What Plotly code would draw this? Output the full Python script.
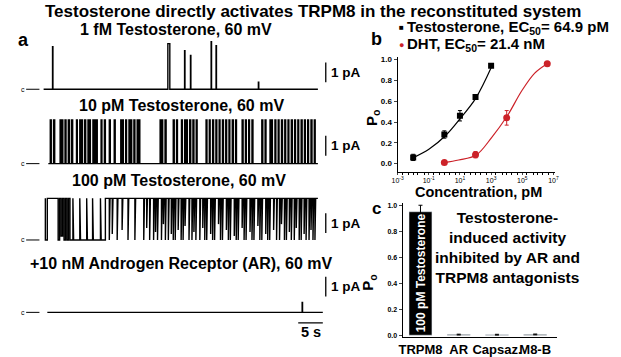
import plotly.graph_objects as go

W, H = 621, 357
FONT = "Liberation Sans, Arial, sans-serif"

# ---------------- DATA ----------------
# Panel a: single-channel traces (time in s, current in pA)
t_start_1fM, t_end_1fM = 0.0, 55.8
openings_1fM = [  # (start s, end s, amplitude pA)
    (1.86, 1.94, 2.15), (25.3, 25.7, 2.3), (28.7, 28.78, 1.95), (29.9, 29.98, 1.7),
    (34.1, 34.18, 2.4), (35.1, 35.18, 2.2), (43.7, 43.78, 0.35),
]

t_start_10pM, t_end_10pM = 1.0, 55.8
amp_10pM = 2.2
openings_10pM = [
    (1.4, 1.6), (2.07, 2.3), (3.4, 3.55), (3.73, 3.95), (4.4, 4.6), (5.07, 5.3), (5.73, 5.95),
    (6.73, 6.9), (7.4, 7.55), (7.73, 7.95), (8.4, 8.6), (9.07, 9.25), (9.4, 9.55), (10.07, 10.25),
    (10.4, 10.55), (10.73, 10.95), (11.73, 11.9), (12.4, 12.6), (13.4, 13.6), (14.4, 14.6),
    (15.73, 15.9), (16.07, 16.25), (16.73, 16.9), (17.4, 17.55), (17.73, 17.95), (18.4, 18.6),
    (19.07, 19.25), (19.4, 19.6), (23.73, 23.9), (24.07, 24.25), (24.73, 24.95), (26.4, 26.6),
    (27.07, 27.25), (28.07, 28.25), (28.73, 28.9), (29.07, 29.25), (29.73, 29.95), (30.4, 30.6),
    (31.07, 31.25), (33.07, 33.25), (33.73, 33.9), (34.4, 34.6), (35.07, 35.25), (35.73, 35.9),
    (36.4, 36.6), (37.07, 37.25), (37.73, 37.9), (38.4, 38.6), (39.07, 39.25), (40.4, 40.6),
    (41.07, 41.25), (41.73, 41.9), (42.4, 42.6), (44.4, 44.6), (45.07, 45.25), (46.07, 46.25),
    (46.4, 46.55), (47.07, 47.25), (47.73, 47.9), (48.4, 48.6), (49.07, 49.25), (49.73, 49.9),
    (50.4, 50.6), (51.07, 51.25), (51.73, 51.9), (52.4, 52.6), (53.07, 53.25), (53.73, 53.9),
    (54.4, 54.6), (55.07, 55.25),
]

t_start_100pM, t_end_100pM = 0.4, 55.8
amp_100pM = 2.1
closures_100pM = [  # (start s, end s, level pA) -- channel mostly open
    (0.4, 0.8, 0.0), (3.0, 3.3, 0.0), (3.6, 3.9, 0.2), (4.2, 4.5, 0.0), (4.8, 5.1, 0.0),
    (5.4, 6.0, 0.0), (6.15, 7.4, 0.0), (7.55, 8.8, 0.0), (8.95, 10.0, 0.0), (10.15, 11.6, 0.0),
    (11.75, 12.6, 0.0), (13.4, 13.55, 0.0), (14.0, 14.15, 0.3), (15.0, 15.15, 0.0),
    (16.0, 16.15, 0.5), (17.2, 17.35, 0.0), (18.6, 18.75, 0.0), (20.4, 20.55, 0.0),
    (21.0, 21.15, 0.6), (21.6, 21.75, 0.0), (22.4, 22.55, 0.0), (22.8, 22.95, 0.4),
    (23.2, 23.35, 0.0), (24.0, 24.15, 0.0), (24.4, 24.55, 0.8), (24.8, 24.95, 0.0),
    (25.4, 25.55, 0.0), (26.0, 26.15, 0.3), (26.4, 26.55, 0.0), (26.8, 26.95, 0.0),
    (27.4, 27.55, 0.5), (28.0, 28.15, 0.0), (28.4, 28.55, 0.0), (28.8, 28.95, 0.7),
    (29.6, 29.75, 0.0), (30.2, 30.35, 0.0), (30.6, 30.75, 0.4), (31.0, 31.15, 0.0),
    (31.8, 31.95, 0.0), (32.4, 32.55, 0.6), (32.8, 32.95, 0.0), (33.2, 33.35, 0.0),
    (34.0, 34.15, 0.3), (34.4, 34.55, 0.0), (34.8, 34.95, 0.0), (35.6, 35.75, 0.8),
    (36.0, 36.15, 0.0), (36.4, 36.55, 0.0), (37.2, 37.35, 0.5), (37.6, 37.75, 0.0),
    (38.0, 38.15, 0.0), (38.8, 38.95, 0.2), (39.2, 39.35, 0.0), (39.6, 39.75, 0.0),
    (40.4, 40.55, 0.6), (40.8, 40.95, 0.0), (41.2, 41.35, 0.0), (42.0, 42.15, 0.4),
    (42.4, 42.55, 0.0), (42.8, 42.95, 0.0), (43.6, 43.75, 0.7), (44.0, 44.15, 0.0),
    (44.4, 44.55, 0.0), (45.2, 45.35, 0.3), (45.6, 45.75, 0.0), (46.0, 46.15, 0.0),
    (46.8, 46.95, 0.5), (47.4, 47.55, 0.0), (48.0, 48.15, 0.0), (48.4, 48.55, 0.8),
    (49.0, 49.15, 0.0), (49.4, 49.55, 0.0), (50.0, 50.15, 0.4), (50.4, 50.55, 0.0),
    (51.0, 51.15, 0.0), (51.4, 51.55, 0.6), (52.0, 52.15, 0.0), (52.4, 52.55, 0.0),
    (53.0, 53.15, 0.3), (53.4, 53.55, 0.0), (54.0, 54.15, 0.0), (54.4, 54.55, 0.5),
    (54.8, 54.95, 0.0), (55.2, 55.35, 0.0),
]

t_start_AR, t_end_AR = 0.8, 56.8
openings_AR = [(52.6, 52.68, 0.5)]

trace_titles = ["1 fM Testosterone, 60 mV", "10 pM Testosterone, 60 mV",
                "100 pM Testosterone, 60 mV", "+10 nM Androgen Receptor (AR), 60 mV"]

# Panel b: dose-response
conc_T = [0.01, 1, 10, 100, 1000]
po_T = [0.06, 0.28, 0.46, 0.64, 0.94]
err_T = [0.03, 0.035, 0.05, 0.012, 0.012]
conc_DHT = [1, 100, 10000, 4000000]
po_DHT = [0.01, 0.086, 0.44, 0.96]
err_DHT = [0.01, 0.03, 0.07, 0.012]
fit_T_x = [0.0093, 0.107, 1.2, 11.2, 105, 1070]
fit_T_y = [0.054, 0.14, 0.27, 0.44, 0.63, 0.93]
fit_DHT_x = [1, 8.3, 105, 1070, 11000, 93000, 630000, 4000000]
fit_DHT_y = [0.01, 0.035, 0.08, 0.25, 0.46, 0.70, 0.87, 0.96]
x_tickvals = [1e-3, 1e-1, 1e1, 1e3, 1e5, 1e7]
x_ticktext = ["10<sup>-3</sup>", "10<sup>-1</sup>", "10<sup>1</sup>", "10<sup>3</sup>",
              "10<sup>5</sup>", "10<sup>7</sup>"]
y_ticks = [0.0, 0.2, 0.4, 0.6, 0.8, 1.0]

# Panel c: bars
bar_cats = ["TRPM8", "AR", "Capsaz.", "M8-B"]
bar_po = [0.95, 0.005, 0.004, 0.006]
bar_err = [0.05, 0.003, 0.003, 0.003]

RED = "#cc2229"


def px(x):
    return x / W


def py(y):
    return 1 - y / H


def step_open(t0, t1, events):
    xs, ys = [t0], [0.0]
    for s, e, a in events:
        xs += [s, s, e, e]
        ys += [0.0, a, a, 0.0]
    xs.append(t1)
    ys.append(0.0)
    return xs, ys


def step_closed(t0, t1, level, events):
    xs, ys = [t0], [level]
    for s, e, a in events:
        xs += [s, s, e, e]
        ys += [level, a, a, level]
    xs.append(t1)
    ys.append(level)
    return xs, ys


def ann(text, x, y, size, xref="paper", yref="paper", xanchor="center", yanchor="middle",
        color="black", **kw):
    return dict(text=text, xref=xref, yref=yref, x=x, y=y, xanchor=xanchor, yanchor=yanchor,
                showarrow=False, font=dict(size=size, family=FONT, color=color), **kw)


fig = go.Figure()

traces = [
    step_open(t_start_1fM, t_end_1fM, openings_1fM),
    step_open(t_start_10pM, t_end_10pM, [(s, e, amp_10pM) for s, e in openings_10pM]),
    step_closed(t_start_100pM, t_end_100pM, amp_100pM, closures_100pM),
    step_open(t_start_AR, t_end_AR, openings_AR),
]
baselines = [88, 163, 240, 313]
yranges = [(-0.5, 2.6), (-0.5, 2.5), (-0.5, 2.5), (-0.6, 2.0)]
bars_pA = [(0.35, 1.35), (0.4, 1.4), (0.35, 1.35), (0.8, 1.8)]
title_y = [28, 104, 180, 264]
title_x = [173, 178, 176, 178]
PXS = 5.0  # px per second
x_dom = [px(38), px(38 + 57 * PXS)]

shapes, annots = [], []
for i, (xs, ys) in enumerate(traces):
    n = i + 1
    xa = "x" if n == 1 else f"x{n}"
    ya = "y" if n == 1 else f"y{n}"
    fig.add_trace(go.Scatter(x=xs, y=ys, mode="lines", xaxis=xa, yaxis=ya,
                             line=dict(color="black", width=1.4), hoverinfo="skip",
                             showlegend=False))
    B = baselines[i]
    lo, hi = yranges[i]
    dom = [py(B - 20 * lo), py(B - 20 * hi)]
    ykey = "yaxis" if n == 1 else f"yaxis{n}"
    xkey = "xaxis" if n == 1 else f"xaxis{n}"
    fig.update_layout(**{
        xkey: dict(domain=x_dom, range=[0, 57], visible=False, anchor=ya),
        ykey: dict(domain=dom, range=[lo, hi], visible=False, anchor=xa),
    })
    shapes.append(dict(type="line", xref="paper", yref=ya, x0=px(20.5), x1=px(34),
                       y0=0, y1=0, line=dict(color="black", width=1)))
    annots.append(ann("c", px(17), 0, 7, yref=ya))
    b0, b1 = bars_pA[i]
    shapes.append(dict(type="line", xref="paper", yref=ya, x0=px(325), x1=px(325),
                       y0=b0, y1=b1, line=dict(color="black", width=1.3)))
    annots.append(ann("<b>1 pA</b>", px(328), (b0 + b1) / 2, 13.5, yref=ya, xanchor="left"))
    annots.append(ann(f"<b>{trace_titles[i]}</b>", px(title_x[i]), py(title_y[i]), 16))

# 5 s bar
shapes.append(dict(type="line", xref="x4", yref="paper", x0=51.8, x1=56.8,
                   y0=py(323.5), y1=py(323.5), line=dict(color="black", width=1.3)))
annots.append(ann("<b>5 s</b>", 54.3, py(333), 14.5, xref="x4"))

# ---------------- Panel b ----------------
fig.add_trace(go.Scatter(x=fit_T_x, y=fit_T_y, mode="lines", line=dict(color="black", width=1.2,
                         shape="spline"), xaxis="x5", yaxis="y5", showlegend=False))
fig.add_trace(go.Scatter(x=fit_DHT_x, y=fit_DHT_y, mode="lines", line=dict(color=RED, width=1.2,
                         shape="spline"), xaxis="x5", yaxis="y5", showlegend=False))
fig.add_trace(go.Scatter(x=conc_T, y=po_T, mode="markers",
                         marker=dict(symbol="square", size=6, color="black"),
                         error_y=dict(type="data", array=err_T, color="black", thickness=1, width=2),
                         xaxis="x5", yaxis="y5", showlegend=False))
fig.add_trace(go.Scatter(x=conc_DHT, y=po_DHT, mode="markers",
                         marker=dict(symbol="circle", size=7, color=RED),
                         error_y=dict(type="data", array=err_DHT, color=RED, thickness=1, width=2),
                         xaxis="x5", yaxis="y5", showlegend=False))

fig.update_layout(
    xaxis5=dict(domain=[px(398), px(558)], type="log", range=[-3, 7.1], anchor="y5",
                showline=True, linecolor="black", linewidth=1, ticks="outside", ticklen=2,
                tickvals=x_tickvals, ticktext=x_ticktext, showgrid=False, zeroline=False,
                tickfont=dict(size=7, family=FONT, color="black"),
                minor=dict(ticks="outside", ticklen=2, tickcolor="black", showgrid=False)),
    yaxis5=dict(domain=[py(171), py(55)], range=[-0.076, 1.029], anchor="x5",
                showline=True, linecolor="black", linewidth=1, ticks="outside", ticklen=3,
                tickvals=y_ticks, ticktext=[f"<b>{v:.1f}</b>" for v in y_ticks],
                showgrid=False, zeroline=False,
                tickfont=dict(size=8, family=FONT, color="black")),
)

# ---------------- Panel c ----------------
fig.add_trace(go.Bar(x=[0, 1, 2, 3], y=bar_po, width=0.6, marker=dict(color="black"),
                     error_y=dict(type="data", array=bar_err, color="black", thickness=1, width=2),
                     xaxis="x6", yaxis="y6", showlegend=False))
fig.update_layout(
    xaxis6=dict(domain=[px(403), px(560)], range=[-0.47, 3.57], anchor="y6",
                showline=True, linecolor="black", linewidth=1, ticks="", tickangle=0,
                tickvals=[0, 1, 2, 3], ticktext=[f"<b>{c}</b>" for c in bar_cats],
                showgrid=False, zeroline=False,
                tickfont=dict(size=13, family=FONT, color="black")),
    yaxis6=dict(domain=[py(338), py(203)], range=[-0.015, 1.015], anchor="x6",
                showline=True, linecolor="black", linewidth=1, ticks="outside", ticklen=3,
                tickvals=y_ticks, ticktext=[f"<b>{v:.1f}</b>" for v in y_ticks],
                showgrid=False, zeroline=False,
                tickfont=dict(size=7, family=FONT, color="black")),
)

annots += [
    ann("<b>Testosterone directly activates TRPM8 in the reconstituted system</b>",
        px(312), py(10), 17),
    ann("<b>a</b>", px(18), py(38), 18),
    ann("<b>b</b>", px(377), py(37), 18),
    ann("<b>c</b>", px(377), py(208), 17),
    ann("■", px(402), py(26), 8),
    ann("<b>Testosterone, EC<sub>50</sub>= 64.9 pM</b>", px(406), py(26), 15, xanchor="left"),
    ann("●", px(402), py(43), 9, color=RED),
    ann("<b>DHT, EC<sub>50</sub>= 21.4 nM</b>", px(406), py(43), 15, xanchor="left"),
    ann("<b>P<sub>o</sub></b>", px(372), py(117), 15, textangle=-90),
    ann("<b>Concentration, pM</b>", px(480), py(192), 14.5),
    ann("<b>P<sub>o</sub></b>", px(369), py(283), 15, textangle=-90),
    ann("<b>100 pM Testosterone</b>", 0, 0.48, 12, xref="x6", yref="y6", color="white",
        textangle=-90),
    ann("<b>Testosterone-<br>induced activity<br>inhibited by AR and<br>TRPM8 antagonists</b>",
        px(510), py(247.5), 15.5),
]

fig.update_layout(width=W, height=H, margin=dict(l=0, r=0, t=0, b=0),
                  paper_bgcolor="white", plot_bgcolor="white",
                  shapes=shapes, annotations=annots, showlegend=False,
                  font=dict(family=FONT, color="black"))

fig.write_html("out.html", config={"displayModeBar": False},
               post_script="document.body.style.margin='0';document.body.style.overflow='hidden';")
